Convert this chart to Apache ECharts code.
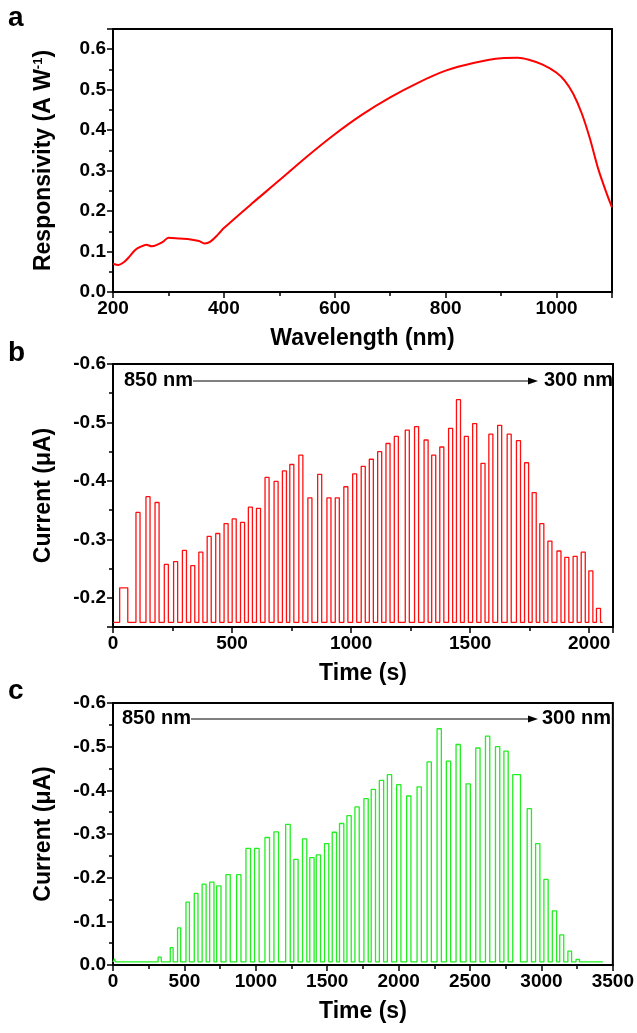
<!DOCTYPE html>
<html>
<head>
<meta charset="utf-8">
<script src="https://cdn.jsdelivr.net/npm/echarts@6/dist/echarts.min.js"></script>
<style>
html,body{margin:0;padding:0;background:#fff;}
#c{width:637px;height:1033px;}
</style>
</head>
<body>
<div id="c"></div>
<script>
// ---- Panel a: responsivity spectrum ----
const aWavelength = [200, 210, 220, 230, 240, 250, 260, 270, 280, 290, 300, 320, 340, 355, 365, 375, 390, 400, 450, 500, 550, 600, 650, 700, 750, 800, 850, 900, 930, 950, 975, 1000, 1015, 1030, 1045, 1060, 1075, 1090, 1100];
const aResponsivity = [0.070, 0.067, 0.074, 0.088, 0.104, 0.112, 0.117, 0.113, 0.117, 0.124, 0.134, 0.132, 0.130, 0.126, 0.120, 0.124, 0.143, 0.158, 0.218, 0.276, 0.335, 0.390, 0.439, 0.481, 0.517, 0.547, 0.566, 0.578, 0.579, 0.574, 0.562, 0.542, 0.522, 0.490, 0.443, 0.380, 0.305, 0.245, 0.209];

// ---- Panel b: red pulses (time of pulse centre, s) ----
const bCenters = [45, 105, 147, 185, 224, 263, 300, 335, 369, 404, 440, 475, 509, 544, 577, 611, 647, 685, 720, 751, 789, 827, 868, 907, 942, 978, 1015, 1051, 1085, 1120, 1155, 1190, 1236, 1275, 1315, 1347, 1381, 1418, 1451, 1484, 1519, 1554, 1587, 1624, 1664, 1703, 1737, 1769, 1801, 1835, 1873, 1906, 1941, 1975, 2007, 2039];
const bWidths = [34, 17, 17, 17, 17, 17, 17, 17, 17, 17, 17, 17, 17, 17, 17, 17, 17, 17, 17, 17, 17, 17, 17, 17, 17, 17, 17, 17, 17, 17, 17, 17, 17, 17, 17, 17, 17, 17, 17, 17, 17, 17, 17, 17, 17, 17, 17, 17, 17, 17, 17, 17, 17, 17, 17, 17];
const bPeaks = [-0.217, -0.346, -0.373, -0.363, -0.257, -0.262, -0.281, -0.255, -0.278, -0.305, -0.310, -0.327, -0.335, -0.329, -0.355, -0.353, -0.406, -0.399, -0.417, -0.428, -0.444, -0.371, -0.411, -0.371, -0.371, -0.390, -0.412, -0.425, -0.437, -0.450, -0.464, -0.476, -0.487, -0.493, -0.470, -0.444, -0.458, -0.490, -0.539, -0.476, -0.498, -0.430, -0.480, -0.495, -0.480, -0.469, -0.431, -0.380, -0.327, -0.297, -0.280, -0.269, -0.271, -0.278, -0.246, -0.182];
const bBaseline = -0.158;
const bStart = 0, bEnd = 2056;

// ---- Panel c: green pulses ----
const cCenters = [14, 327, 411, 463, 523, 582, 638, 692, 741, 806, 881, 947, 1007, 1080, 1143, 1225, 1281, 1342, 1393, 1438, 1496, 1550, 1601, 1653, 1709, 1772, 1823, 1880, 1936, 2001, 2071, 2144, 2214, 2284, 2349, 2417, 2487, 2555, 2623, 2693, 2752, 2826, 2915, 2974, 3032, 3091, 3142, 3198, 3254];
const cWidths = [6, 22, 20, 22, 24, 26, 28, 30, 30, 30, 30, 32, 32, 32, 32, 32, 30, 30, 30, 30, 30, 30, 30, 30, 30, 30, 30, 30, 30, 30, 30, 30, 30, 30, 30, 30, 30, 30, 30, 30, 30, 54, 30, 30, 30, 30, 28, 26, 24];
const cPeaks = [-0.014, -0.018, -0.040, -0.085, -0.144, -0.164, -0.185, -0.190, -0.181, -0.207, -0.207, -0.267, -0.267, -0.292, -0.305, -0.322, -0.242, -0.289, -0.246, -0.252, -0.278, -0.304, -0.324, -0.342, -0.362, -0.381, -0.402, -0.423, -0.436, -0.413, -0.387, -0.408, -0.465, -0.541, -0.467, -0.505, -0.415, -0.497, -0.524, -0.500, -0.490, -0.436, -0.358, -0.278, -0.196, -0.124, -0.069, -0.032, -0.013];
const cBaseline = -0.007;
const cStart = 0, cEnd = 3430;

// tick labels
const aXTicks = [200, 400, 600, 800, 1000];
const bXTicks = [0, 500, 1000, 1500, 2000];
const cXTicks = [0, 500, 1000, 1500, 2000, 2500, 3000, 3500];

function pulseTrace(centers, widths, peaks, base, t0, t1) {
  const pts = [[t0, base]];
  for (let i = 0; i < centers.length; i++) {
    const s = centers[i] - widths[i] / 2, e = centers[i] + widths[i] / 2;
    pts.push([s, base], [s, peaks[i]], [e, peaks[i]], [e, base]);
  }
  pts.push([t1, base]);
  return pts;
}

const FONT = "'Liberation Sans', Arial, Helvetica, sans-serif";
const tickLbl = { fontFamily: FONT, fontWeight: 'bold', fontSize: 19, color: '#000', margin: 7 };
const nameStyle = { fontFamily: FONT, fontWeight: 'bold', fontSize: 23, color: '#000' };
const axLine = { show: true, onZero: false, lineStyle: { color: '#000', width: 2 } };
const axTick = { show: true, inside: false, length: 6, lineStyle: { color: '#000', width: 1.5 } };
const minTick = { show: true, splitNumber: 2, length: 4, lineStyle: { color: '#000', width: 1.5 } };

function xAx(idx, min, max, interval, name, ticks) {
  return {
    gridIndex: idx, type: 'value', min: min, max: max, interval: interval,
    name: name, nameLocation: 'middle', nameGap: 35, nameTextStyle: nameStyle,
    axisLine: axLine, axisTick: axTick, minorTick: minTick, splitLine: { show: false },
    axisLabel: Object.assign({}, tickLbl, {
      showMaxLabel: ticks.indexOf(max) >= 0,
      formatter: v => (ticks.indexOf(Math.round(v)) >= 0 ? String(Math.round(v)) : '')
    })
  };
}
function yAx(idx, min, max, inverse, name, hideMax) {
  return {
    gridIndex: idx, type: 'value', min: min, max: max, interval: 0.1, inverse: inverse,
    name: name, nameLocation: 'middle', nameGap: 58, nameTextStyle: Object.assign({}, nameStyle, {
      rich: {
        t: { fontFamily: FONT, fontWeight: 'bold', fontSize: 23, color: '#000' },
        s: { fontFamily: FONT, fontWeight: 'bold', fontSize: 13, color: '#000', verticalAlign: 'top', padding: [0, 0, 10, 0] }
      }
    }),
    axisLine: axLine, axisTick: axTick, minorTick: minTick, splitLine: { show: false },
    axisLabel: Object.assign({}, tickLbl, {
      showMaxLabel: !hideMax,
      formatter: v => (Math.abs(v) < 1e-9 ? '0.0' : v.toFixed(1))
    })
  };
}

const grids = [
  { left: 113, top: 29, width: 499, height: 263 },
  { left: 113, top: 364, width: 500, height: 263 },
  { left: 113, top: 703, width: 500, height: 262 }
].map(g => Object.assign(g, { show: true, borderColor: '#000', borderWidth: 2, backgroundColor: 'transparent', containLabel: false }));

function arrowGroup(y, x850, lineStart, lineEnd, x300) {
  return [
    { type: 'text', left: x850, top: y - 11, style: { text: '850 nm', font: "bold 20px " + FONT, fill: '#000' } },
    { type: 'line', shape: { x1: lineStart, y1: y, x2: lineEnd - 8, y2: y }, style: { stroke: '#000', lineWidth: 1 } },
    { type: 'polygon', shape: { points: [[lineEnd - 10, y - 3.5], [lineEnd, y], [lineEnd - 10, y + 3.5]] }, style: { fill: '#000' } },
    { type: 'text', left: x300, top: y - 11, style: { text: '300 nm', font: "bold 20px " + FONT, fill: '#000' } }
  ];
}

const option = {
  animation: false,
  backgroundColor: '#fff',
  grid: grids,
  xAxis: [
    xAx(0, 200, 1100, 200, 'Wavelength (nm)', aXTicks),
    xAx(1, 0, 2100, 500, 'Time (s)', bXTicks),
    xAx(2, 0, 3500, 500, 'Time (s)', cXTicks)
  ],
  yAxis: [
    yAx(0, 0, 0.65, false, '{t|Responsivity (A W}{s|-1}{t|)}', true),
    yAx(1, -0.6, -0.15, true, '{t|Current (μA)}', true),
    yAx(2, -0.6, 0, true, '{t|Current (μA)}', false)
  ],
  series: [
    { type: 'line', xAxisIndex: 0, yAxisIndex: 0, showSymbol: false, smooth: 0.3,
      lineStyle: { color: '#ff0000', width: 2 }, data: aWavelength.map((w, i) => [w, aResponsivity[i]]) },
    { type: 'line', xAxisIndex: 1, yAxisIndex: 1, showSymbol: false,
      lineStyle: { color: '#ff1010', width: 1.3 }, data: pulseTrace(bCenters, bWidths, bPeaks, bBaseline, bStart, bEnd) },
    { type: 'line', xAxisIndex: 2, yAxisIndex: 2, showSymbol: false,
      lineStyle: { color: '#22ee22', width: 1.3 }, data: pulseTrace(cCenters, cWidths, cPeaks, cBaseline, cStart, cEnd) }
  ],
  graphic: [
    { type: 'text', left: 8, top: 4, style: { text: 'a', font: "bold 28px " + FONT, fill: '#000' } },
    { type: 'text', left: 8, top: 339, style: { text: 'b', font: "bold 28px " + FONT, fill: '#000' } },
    { type: 'text', left: 8, top: 677, style: { text: 'c', font: "bold 28px " + FONT, fill: '#000' } }
  ].concat(arrowGroup(381, 124, 193, 538, 544), arrowGroup(719, 122, 191, 538, 542))
};

const chart = echarts.init(document.getElementById('c'), null, { renderer: 'canvas' });
chart.setOption(option);
</script>
</body>
</html>
